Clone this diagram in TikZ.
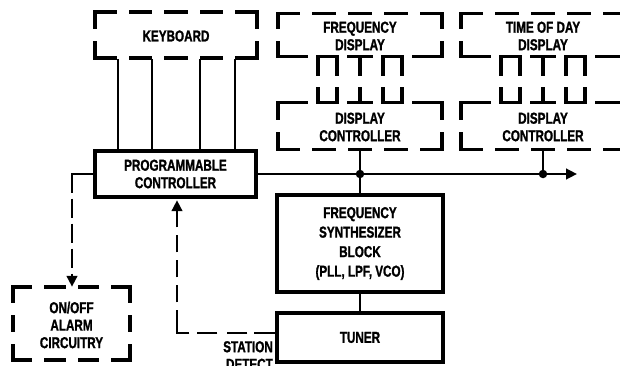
\documentclass[tikz,border=0pt]{standalone}
\usepackage{fontspec}
\setmainfont{Liberation Sans}[FakeStretch=0.74, BoldFeatures={FakeBold=1.2}]
\usetikzlibrary{arrows.meta}
\newcommand\lblfont{\fontsize{15.8}{17.5}\selectfont\bfseries}
% dashed segment with n dashes, ends on dashes
\newcommand\dseg[5]{%
  \pgfmathsetmacro\dlen{(veclen(#3-#1,#4-#2)-(#5-1)*15.2)/#5}%
  \draw[dbox, dash pattern=on \dlen pt off 15.2pt] (#1,#2) -- (#3,#4);}
% dashed box: x1 y1 x2 y2 nh nv bottomflag topflag
\newcommand\dboxo[8]{%
  \ifnum#8=1 \dseg{#1}{#2}{#3}{#2}{#5}\fi
  \ifnum#7=1 \dseg{#1}{#4}{#3}{#4}{#5}\fi
  \dseg{#1}{#2}{#1}{#4}{#6}%
  \dseg{#3}{#2}{#3}{#4}{#6}}
\tikzset{
  dbox/.style={line width=3.2pt, line cap=rect, miter limit=10},
  sbox/.style={draw, line width=3.4pt, inner sep=0pt, align=center, font=\lblfont},
  lbl/.style={align=center, font=\lblfont, inner sep=0pt},
  wire/.style={line width=2.6pt},
  arr/.style={-{Triangle[length=11pt,width=10.5pt]}},
  jdot/.style={circle, fill, inner sep=0pt, minimum size=8.5pt}
}
\begin{document}
\begin{tikzpicture}[x=1pt,y=-1pt]
\useasboundingbox (0,0) rectangle (620,366);
% boxes
\node[lbl, minimum width=162pt, minimum height=46pt] (kb) at (176,36) {KEYBOARD};
\node[lbl, minimum width=164pt, minimum height=43pt] (fd) at (360,36) {FREQUENCY\\DISPLAY};
\node[lbl, minimum width=164pt, minimum height=47pt] (dc1) at (360,127) {DISPLAY\\CONTROLLER};
\node[lbl, minimum width=164pt, minimum height=43pt] (td) at (543,36) {TIME OF DAY\\DISPLAY};
\node[lbl, minimum width=164pt, minimum height=47pt] (dc2) at (543,127) {DISPLAY\\CONTROLLER};
\node[lbl, minimum width=117pt, minimum height=73pt] (alarm) at (71.5,325) {ON/OFF\\ALARM\\CIRCUITRY};
\node[sbox, minimum width=161pt, minimum height=46pt] (ctrl) at (175.5,174) {PROGRAMMABLE\\CONTROLLER};
\node[sbox, minimum width=166pt, minimum height=97pt, font=\fontsize{15.8}{19.5}\selectfont\bfseries] (synth) at (360,243.5) {FREQUENCY\\SYNTHESIZER\\BLOCK\\(PLL, LPF, VCO)};
\node[sbox, minimum width=166pt, minimum height=49pt] (tuner) at (360,337.5) {TUNER};
\node[lbl, anchor=north east, align=right] (sd) at (273,341) {STATION\\DETECT};
% dashed outlines
\dboxo{95}{12}{257}{58}{5}{2}{1}{1}
\dboxo{278}{13.5}{442}{56.5}{5}{2}{0}{1}
\dboxo{278}{102.5}{442}{149.5}{5}{2}{1}{0}
\dboxo{461}{13.5}{625}{56.5}{5}{2}{0}{1}
\dboxo{461}{102.5}{625}{149.5}{5}{2}{1}{0}
\dboxo{13}{287}{130}{360}{4}{3}{1}{1}
% bus stubs between displays and display controllers
\foreach \cx in {360,543}{
  \draw[dbox] (\cx-82,56.5) -- (\cx-54,56.5);
  \draw[dbox] (\cx-42,74) -- (\cx-42,56.5) -- (\cx-23,56.5) -- (\cx-23,74);
  \draw[dbox] (\cx-11,56.5) -- (\cx+11,56.5) (\cx,56.5) -- (\cx,74);
  \draw[dbox] (\cx+23,74) -- (\cx+23,56.5) -- (\cx+42,56.5) -- (\cx+42,74);
  \draw[dbox] (\cx+54,56.5) -- (\cx+82,56.5);
  \draw[dbox] (\cx-82,102.5) -- (\cx-54,102.5);
  \draw[dbox] (\cx-42,89) -- (\cx-42,102.5) -- (\cx-23,102.5) -- (\cx-23,89);
  \draw[dbox] (\cx-11,102.5) -- (\cx+11,102.5) (\cx,89) -- (\cx,102.5);
  \draw[dbox] (\cx+23,89) -- (\cx+23,102.5) -- (\cx+42,102.5) -- (\cx+42,89);
  \draw[dbox] (\cx+54,102.5) -- (\cx+82,102.5);
}
% keyboard lines
\foreach \x in {118,152,200,235}
  \draw[wire] (kb.south -| \x,0) -- (ctrl.north -| \x,0);
% bus
\coordinate (busend) at (577,174);
\node[jdot] (j1) at (360,174) {};
\node[jdot] (j2) at (543,174) {};
\draw[wire, arr] (ctrl.east) -- (busend);
\draw[wire] (dc1.south) -- (j1) -- (synth.north);
\draw[wire] (dc2.south) -- (j2);
\draw[wire] (synth.south) -- (tuner.north);
% alarm control (dashed)
\coordinate (ac) at (72,174);
\draw[wire, arr, dash pattern=on 40pt off 6pt on 19pt off 6pt on 19pt off 6pt on 19pt off 6pt on 19pt off 6pt]
  (ctrl.west) -- (ac) -- ([yshift=1.5pt]alarm.north -| ac);
% station detect (dashed)
\coordinate (sdc) at (177,333);
\draw[wire, arr, dash pattern=on 21pt off 7pt on 20pt off 10pt on 20pt off 8pt on 35pt off 8pt on 17pt off 8pt on 17pt off 8pt on 17pt off 8pt on 17pt off 8pt on 17pt off 8pt]
  (tuner.west |- sdc) -- (sdc) -- ([yshift=-1.5pt]ctrl.south -| sdc);
\end{tikzpicture}
\end{document}
